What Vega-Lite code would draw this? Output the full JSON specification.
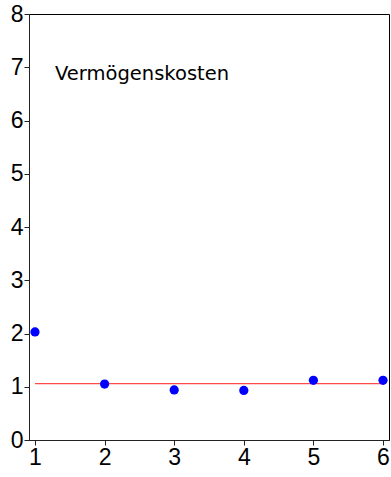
{
  "$schema": "https://vega.github.io/schema/vega-lite/v6.json",
  "width": 360,
  "height": 426,
  "autosize": {"type": "none"},
  "padding": {"left": 29, "top": 14, "right": 2, "bottom": 37},
  "background": "white",
  "config": {
    "view": {"stroke": "#000", "strokeWidth": 1},
    "font": "Liberation Sans",
    "axis": {
      "grid": false,
      "domainColor": "#222",
      "tickColor": "#222",
      "tickSize": 5,
      "labelFontSize": 23,
      "labelColor": "#000",
      "labelFont": "Liberation Sans",
      "title": null
    }
  },
  "datasets": {
    "pts": [
      {"t": 1, "v": 2.03},
      {"t": 2, "v": 1.05},
      {"t": 3, "v": 0.94},
      {"t": 4, "v": 0.93},
      {"t": 5, "v": 1.12},
      {"t": 6, "v": 1.12}
    ],
    "ref": [{"x1": 1, "x2": 6, "v": 1.06}],
    "lab": [{"x": 1.288, "y": 6.76, "text": "Vermögenskosten"}]
  },
  "layer": [
    {
      "data": {"name": "ref"},
      "mark": {"type": "rule", "color": "#ff4a4a", "strokeWidth": 1.3},
      "encoding": {
        "x": {"field": "x1", "type": "quantitative", "scale": {"domain": [0.914, 6.086], "nice": false, "zero": false},
              "axis": {"values": [1, 2, 3, 4, 5, 6], "labelPadding": 1, "format": "d"}},
        "x2": {"field": "x2"},
        "y": {"field": "v", "type": "quantitative", "scale": {"domain": [0, 8], "nice": false},
              "axis": {"values": [0, 1, 2, 3, 4, 5, 6, 7, 8], "labelPadding": 1, "format": "d"}}
      }
    },
    {
      "data": {"name": "pts"},
      "mark": {"type": "circle", "color": "#0000ff", "opacity": 1, "size": 85},
      "encoding": {
        "x": {"field": "t", "type": "quantitative"},
        "y": {"field": "v", "type": "quantitative"}
      }
    },
    {
      "data": {"name": "lab"},
      "mark": {"type": "text", "align": "left", "baseline": "alphabetic", "fontSize": 19.5, "font": "DejaVu Sans", "color": "#000"},
      "encoding": {
        "x": {"field": "x", "type": "quantitative"},
        "y": {"field": "y", "type": "quantitative"},
        "text": {"field": "text"}
      }
    }
  ]
}
